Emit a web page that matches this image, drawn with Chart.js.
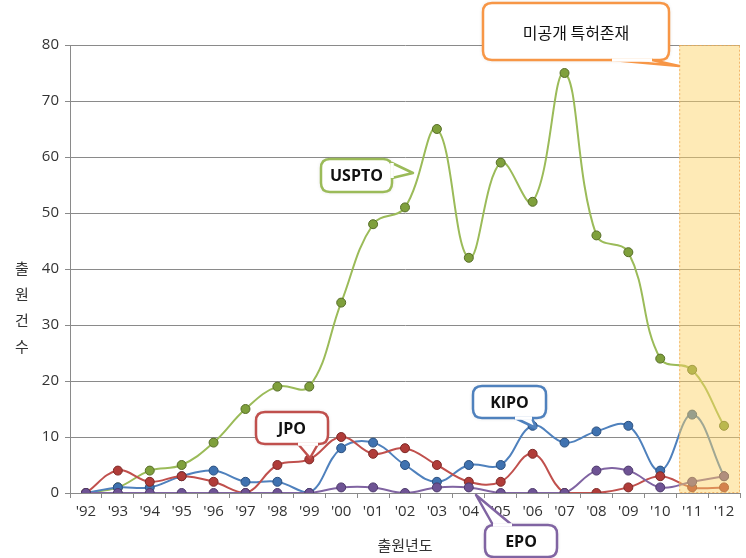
<!DOCTYPE html>
<html>
<head>
<meta charset="utf-8">
<script src="https://cdn.jsdelivr.net/npm/chart.js@4/dist/chart.umd.min.js"></script>
<style>
  html, body { margin: 0; padding: 0; background: #fff; }
  #wrap { width: 746px; height: 558px; position: relative; }
</style>
</head>
<body>
<div id="wrap"><canvas id="c"></canvas></div>
<script>
"use strict";
// Patent filings per office by filing year ('92–'12), smoothed lines.
const years = ["'92","'93","'94","'95","'96","'97","'98","'99","'00","'01","'02","'03","'04","'05","'06","'07","'08","'09","'10","'11","'12"];
const uspto = [0, 1, 4, 5, 9, 15, 19, 19, 34, 48, 51, 65, 42, 59, 52, 75, 46, 43, 24, 22, 12];
const jpo   = [0, 4, 2, 3, 2, 0, 5, 6, 10, 7, 8, 5, 2, 2, 7, 0, 0, 1, 3, 1, 1];
const kipo  = [0, 1, 1, 3, 4, 2, 2, 0, 8, 9, 5, 2, 5, 5, 12, 9, 11, 12, 4, 14, 3];
const epo   = [0, 0, 0, 0, 0, 0, 0, 0, 1, 1, 0, 1, 1, 0, 0, 0, 4, 4, 1, 2, 3];
const yTicks = [0, 10, 20, 30, 40, 50, 60, 70, 80];
const unpublishedFrom = "'11";   // shaded: not yet published

const KR = '"Noto Sans CJK KR", "Noto Sans", sans-serif';
const LAT = '"Open Sans", "Noto Sans", sans-serif';
const gridCol = "#8a8a8a";

const series = [
  { label: "EPO",   data: epo,   line: "#8064A2", dot: "#6E5394", edge: "#4e3a6c" },
  { label: "JPO",   data: jpo,   line: "#C0504D", dot: "#B03C39", edge: "#7e2a28" },
  { label: "KIPO",  data: kipo,  line: "#4F81BD", dot: "#3F72B0", edge: "#2b4f7d" },
  { label: "USPTO", data: uspto, line: "#9BBB59", dot: "#7FA03C", edge: "#566d27" },
];

// callout boxes (pixel layout): box rect, pointer base + tip
const callouts = [
  { text: "미공개 특허존재", font: "16px " + KR, color: "#F79646", x: 483, y: 3, w: 186, h: 57,
    ptr: [[612, 60], [652, 60], [679, 66]] },
  { text: "USPTO", font: "bold 16px " + LAT, color: "#9BBB59", x: 321, y: 159, w: 71, h: 33,
    ptr: [[392, 163], [392, 178], [413, 173]] },
  { text: "JPO", font: "bold 16px " + LAT, color: "#C0504D", x: 256, y: 412, w: 72, h: 32,
    ptr: [[298, 444], [318, 444], [310, 458]] },
  { text: "KIPO", font: "bold 16px " + LAT, color: "#4F81BD", x: 473, y: 386, w: 73, h: 32,
    ptr: [[515, 418], [532, 418], [536, 428]] },
  { text: "EPO", font: "bold 16px " + LAT, color: "#8064A2", x: 485, y: 525, w: 72, h: 32,
    ptr: [[493, 525], [512, 525], [476, 495]] },
];

function roundRect(ctx, x, y, w, h, r) {
  ctx.beginPath();
  ctx.moveTo(x + r, y);
  ctx.lineTo(x + w - r, y); ctx.quadraticCurveTo(x + w, y, x + w, y + r);
  ctx.lineTo(x + w, y + h - r); ctx.quadraticCurveTo(x + w, y + h, x + w - r, y + h);
  ctx.lineTo(x + r, y + h); ctx.quadraticCurveTo(x, y + h, x, y + h - r);
  ctx.lineTo(x, y + r); ctx.quadraticCurveTo(x, y, x + r, y);
  ctx.closePath();
}

const overlay = {
  id: "overlay",
  afterDatasetsDraw(chart) {
    const { ctx, chartArea: a, scales: { x } } = chart;
    const i = years.indexOf(unpublishedFrom);
    const half = (x.getPixelForValue(1) - x.getPixelForValue(0)) / 2;
    const left = x.getPixelForValue(i) - half + 3;
    ctx.save();
    ctx.fillStyle = "rgba(252, 210, 100, 0.47)";
    ctx.fillRect(left, a.top, a.right - left, a.bottom - a.top);
    ctx.setLineDash([2, 2]);
    ctx.strokeStyle = "rgba(240, 170, 90, 0.8)";
    ctx.lineWidth = 1;
    ctx.strokeRect(left + 0.5, a.top + 0.5, a.right - left - 1, a.bottom - a.top - 1);
    ctx.restore();
  },
  afterDraw(chart) {
    const ctx = chart.ctx;
    ctx.save();
    // y axis title, stacked characters
    ctx.fillStyle = "#333";
    ctx.font = "15px " + KR;
    ctx.textAlign = "center"; ctx.textBaseline = "middle";
    ["출", "원", "건", "수"].forEach((ch, k) => ctx.fillText(ch, 22, 268 + k * 26));
    // callouts
    callouts.forEach(c => {
      ctx.save();
      ctx.shadowColor = "rgba(0,0,0,0.18)"; ctx.shadowBlur = 4;
      roundRect(ctx, c.x, c.y, c.w, c.h, 9);
      ctx.fillStyle = "#fff"; ctx.fill();
      ctx.restore();
      ctx.lineWidth = 2.5; ctx.strokeStyle = c.color; ctx.lineJoin = "round";
      roundRect(ctx, c.x, c.y, c.w, c.h, 9); ctx.stroke();
      // pointer
      ctx.beginPath();
      ctx.moveTo(c.ptr[0][0], c.ptr[0][1]);
      ctx.lineTo(c.ptr[2][0], c.ptr[2][1]);
      ctx.lineTo(c.ptr[1][0], c.ptr[1][1]);
      ctx.closePath();
      ctx.fillStyle = "#fff"; ctx.fill(); ctx.stroke();
      // cover the seam so pointer joins box
      ctx.beginPath();
      ctx.moveTo(c.ptr[0][0], c.ptr[0][1]); ctx.lineTo(c.ptr[1][0], c.ptr[1][1]);
      ctx.lineWidth = 3.5; ctx.strokeStyle = "#fff"; ctx.stroke();
      ctx.fillStyle = "#111"; ctx.font = c.font;
      ctx.textAlign = "center"; ctx.textBaseline = "middle";
      ctx.fillText(c.text, c.x + c.w / 2, c.y + c.h / 2 + 1);
    });
    ctx.restore();
  }
};

new Chart(document.getElementById("c"), {
  type: "line",
  data: {
    labels: years,
    datasets: series.map(s => ({
      label: s.label, data: s.data,
      borderColor: s.line, borderWidth: 2, tension: 0.4,
      pointRadius: 4.5, pointBackgroundColor: s.dot, pointBorderColor: s.edge, pointBorderWidth: 1,
      fill: false,
    })),
  },
  options: {
    responsive: true, maintainAspectRatio: false, animation: false,
    layout: { padding: { top: 45, right: 6, left: 0, bottom: 0 } },
    plugins: { legend: { display: false }, tooltip: { enabled: false } },
    scales: {
      x: {
        offset: true,
        grid: { offset: true, drawOnChartArea: false, drawTicks: true, tickLength: 5, color: gridCol },
        border: { color: gridCol },
        ticks: { color: "#333", font: { family: LAT, size: 15 }, padding: 5, maxRotation: 0, autoSkip: false },
        title: { display: true, text: "출원년도", color: "#333", font: { family: KR, size: 15 }, padding: { top: 2 } },
        afterFit(s) { s.height = 65; },
      },
      y: {
        min: 0, max: 80,
        afterBuildTicks(s) { s.ticks = yTicks.map(v => ({ value: v })); },
        grid: { color: gridCol, tickLength: 5 },
        border: { color: gridCol },
        ticks: { color: "#333", font: { family: LAT, size: 15 }, padding: 6 },
        afterFit(s) { s.width = 70; },
      },
    },
  },
  plugins: [overlay],
});
</script>
</body>
</html>
